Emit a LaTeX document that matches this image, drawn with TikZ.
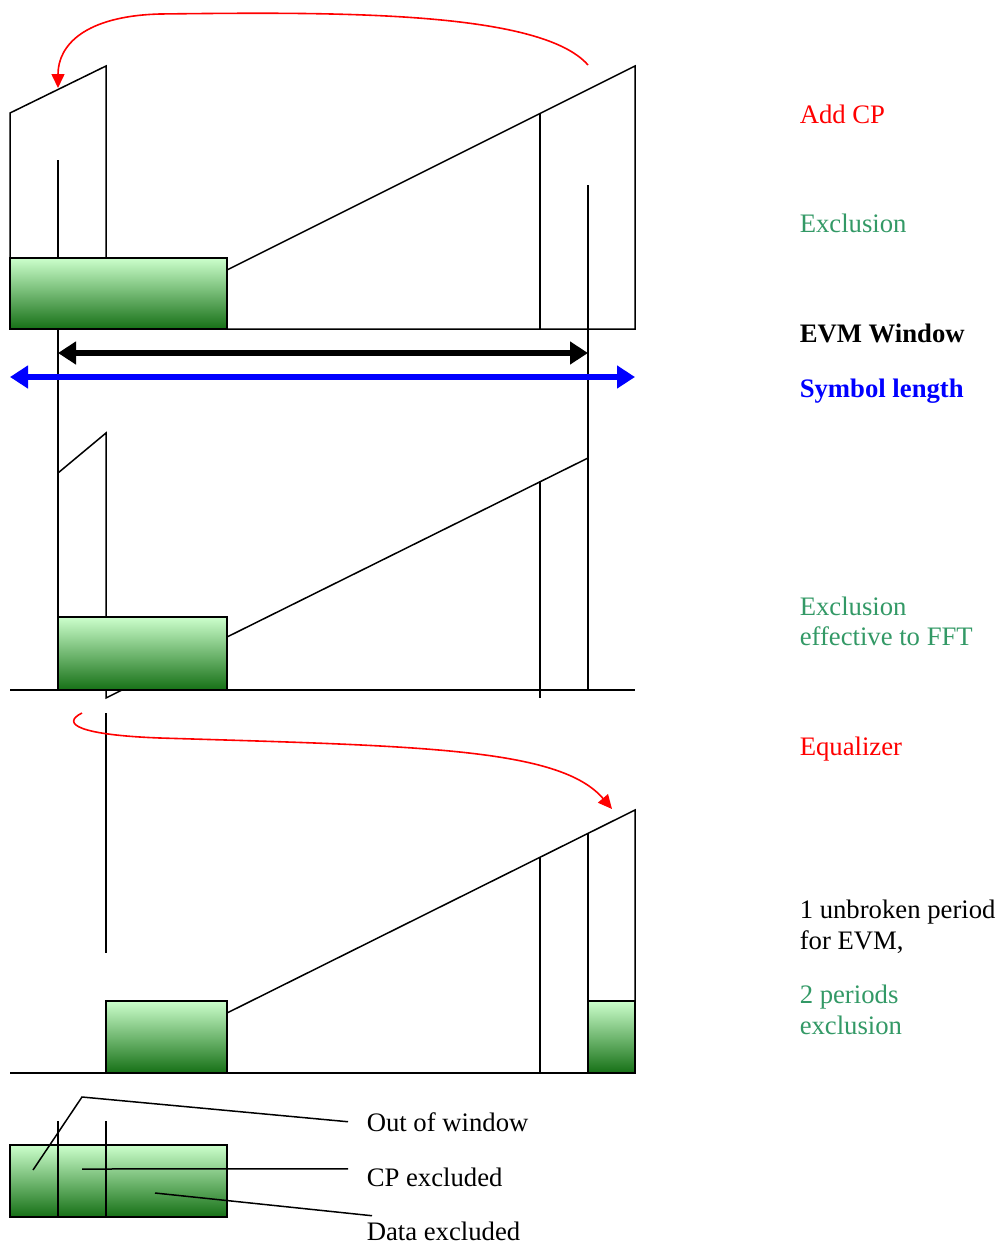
\documentclass[tikz,border=0pt]{standalone}
\usepackage{fontspec}
\setmainfont{Liberation Serif}
\usetikzlibrary{arrows.meta}
\definecolor{exgreen}{RGB}{51,153,102}
\definecolor{boxlight}{RGB}{204,255,204}
\definecolor{boxdark}{RGB}{22,112,22}

\begin{document}
\begin{tikzpicture}[x=1pt, y=-1pt, line width=1.5pt,
    excl/.style={draw, line width=2pt, top color=boxlight, bottom color=boxdark},
    lbl/.style={anchor=base west, inner sep=0pt, font=\fontsize{26.7}{31}\selectfont},
    redarc/.style={red, line width=1.6pt, -{Triangle[width=13pt,length=14pt]}},
    span/.style={line width=6.5pt, {Triangle[width=22pt,length=18pt]}-{Triangle[width=22pt,length=18pt]}}]
  \useasboundingbox (0,0) rectangle (1002,1245);

  % Labels
  \node[lbl, red] (addcp) at (799,123) {Add CP};
  \node[lbl, exgreen] (excl1) at (799,232) {Exclusion};
  \node[lbl, font=\fontsize{26.7}{31}\selectfont\bfseries] (evm) at (799,342) {EVM Window};
  \node[lbl, blue, font=\fontsize{26.7}{31}\selectfont\bfseries] (symlen) at (799,397) {Symbol length};
  \node[lbl, exgreen] (excl2a) at (799,615) {Exclusion};
  \node[lbl, exgreen] (excl2b) at (799,645) {effective to FFT};
  \node[lbl, red] (eq) at (799,755) {Equalizer};
  \node[lbl] (unbrokenA) at (799,918) {1 unbroken period};
  \node[lbl] (unbrokenB) at (799,949) {for EVM,};
  \node[lbl, exgreen] (twoA) at (799,1003) {2 periods};
  \node[lbl, exgreen] (twoB) at (799,1034) {exclusion};

  % Symbol with CP added
  \draw (10,329) -- (10,113) -- (106,66) -- (106,258);
  \draw (227,270) -- (635,66) -- (635,329) -- (10,329);
  \draw (540,113) -- (540,329);
  \draw (58,160) -- (58,690);
  \draw (588,185) -- (588,690);
  \draw[excl] (10,258) rectangle (227,329);

  % Window and symbol length
  \coordinate (evmL) at (58,353);
  \coordinate (evmR) at (588,353);
  \coordinate (symL) at (10,377);
  \coordinate (symR) at (635,377);
  \draw[span] (evmL) -- (evmR);
  \draw[span, blue] (symL) -- (symR);

  % Received symbol in the window
  \draw (58,473) -- (106,433) -- (106,698) -- (122,690);
  \draw (227,637) -- (588,458);
  \draw (540,481) -- (540,698);
  \draw (10,690) -- (635,690);
  \draw[excl] (58,617) rectangle (227,690);

  % After equalizer
  \draw (106,713) -- (106,953);
  \draw (227,1013) -- (635,810) -- (635,1073);
  \draw (540,857) -- (540,1073);
  \draw (588,833) -- (588,1073);
  \draw (10,1073) -- (635,1073);
  \draw[excl] (106,1001) rectangle (227,1073);
  \draw[excl] (588,1001) rectangle (635,1073);

  % Curved arrows
  \coordinate (cpsrc) at (588,65);
  \coordinate (cpdst) at (58,88);
  \coordinate (eqsrc) at (82,713);
  \coordinate (eqdst) at (612,809);
  \draw[redarc] (cpsrc) .. controls (540,10) and (330,12) .. (160,14)
    .. controls (85,16) and (58,45) .. (cpdst);
  \draw[redarc] (eqsrc) .. controls (60,724) and (80,735) .. (160,738)
    .. controls (420,746) and (560,748) .. (eqdst);

  % Legend
  \node[lbl] (oow) at (366,1131) {Out of window};
  \node[lbl] (cpx) at (366,1186) {CP excluded};
  \node[lbl] (dex) at (366,1240) {Data excluded};
  \draw[excl] (10,1145) rectangle (227,1217);
  \draw (58,1121) -- (58,1217);
  \draw (106,1121) -- (106,1217);
  \draw (33,1170) -- (82,1097) -- ([shift={(-18,0)}]oow.west);
  \draw (82,1169) -- ([shift={(-18,-8)}]cpx.west);
  \draw (155,1193) -- ([shift={(6,-5)}]dex.north west);
\end{tikzpicture}
\end{document}
